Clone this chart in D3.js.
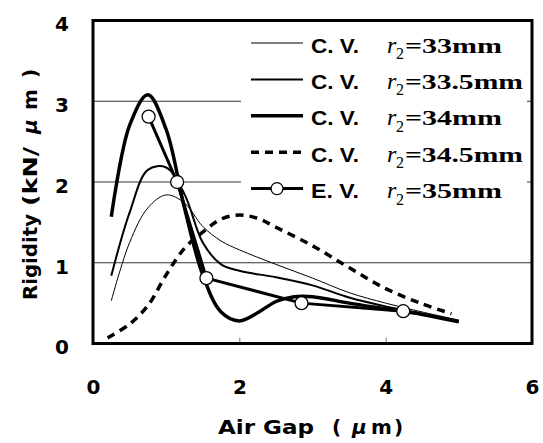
<!DOCTYPE html>
<html>
<head>
<meta charset="utf-8">
<script src="https://cdn.jsdelivr.net/npm/d3@7"></script>
<style>
  body { margin: 0; background: #fff; }
  svg { display: block; }
</style>
</head>
<body>
<svg id="chart" width="543" height="443"></svg>
<script>
// air gap (um) vs rigidity (kN/um)
const gapCV = [0.25, 0.5, 0.75, 1.0, 1.25, 1.5, 1.75, 2.0, 2.5, 3.0, 3.5, 4.0, 4.5, 5.0];
const r33 = [0.53, 1.25, 1.68, 1.84, 1.74, 1.45, 1.27, 1.16, 0.98, 0.81, 0.63, 0.50, 0.39, 0.29];
const r335 = [0.84, 1.62, 2.15, 2.18, 1.85, 1.25, 0.98, 0.90, 0.82, 0.72, 0.57, 0.46, 0.37, 0.28];

const gap34 = [0.25, 0.5, 0.75, 1.0, 1.25, 1.5, 1.75, 2.0, 2.25, 2.5, 2.75, 3.0, 3.5, 4.0, 4.5, 5.0];
const r34 = [1.57, 2.7, 3.08, 2.65, 1.68, 0.85, 0.39, 0.28, 0.38, 0.52, 0.58, 0.58, 0.50, 0.43, 0.36, 0.27];

const gap345 = [0.2, 0.5, 0.75, 1.0, 1.25, 1.5, 1.75, 2.0, 2.25, 2.5, 3.0, 3.5, 4.0, 4.5, 4.9];
const r345 = [0.07, 0.24, 0.47, 0.85, 1.18, 1.38, 1.54, 1.59, 1.55, 1.44, 1.21, 0.94, 0.68, 0.49, 0.37];

const gapEV = [0.76, 1.15, 1.55, 2.85, 4.24];
const r35 = [2.81, 2.0, 0.81, 0.50, 0.40];

const xTicks = [0, 2, 4, 6];
const yTicks = [0, 1, 2, 3, 4];

const legendKind = ["C. V.", "C. V.", "C. V.", "C. V.", "E. V."];
const legendR = ["=33mm", "=33.5mm", "=34mm", "=34.5mm", "=35mm"];

const series = [
    { x: gapCV, y: r33, width: 1, dash: null, smooth: true },
    { x: gapCV, y: r335, width: 2, dash: null, smooth: true },
    { x: gap34, y: r34, width: 3.5, dash: null, smooth: true },
    { x: gap345, y: r345, width: 3.5, dash: "8,6", smooth: true },
    { x: gapEV, y: r35, width: 3, dash: null, smooth: false, marker: true }
];

const sans = "'DejaVu Sans', Verdana, sans-serif";
const serif = "'Liberation Serif', 'Times New Roman', serif";

const margin = { top: 20.5, right: 11, bottom: 99.5, left: 93 };
const width = 543 - margin.left - margin.right;
const height = 443 - margin.top - margin.bottom;

const root = d3.select("#chart");
const svg = root.append("g")
    .attr("transform", "translate(" + margin.left + "," + margin.top + ")");

const x = d3.scaleLinear().domain([0, 6]).range([0, width]);
const y = d3.scaleLinear().domain([0, 4]).range([height, 0]);

// gridlines
svg.selectAll(".grid")
    .data(yTicks.filter(d => d > 0 && d < 4))
    .enter().append("line")
    .attr("x1", 0)
    .attr("x2", width)
    .attr("y1", d => y(d))
    .attr("y2", d => y(d))
    .attr("stroke", "#333")
    .attr("stroke-width", 1);

// x axis (inner ticks + labels)
const xAxis = svg.append("g")
    .attr("transform", "translate(0," + height + ")")
    .call(d3.axisBottom(x).tickValues(xTicks).tickSize(-6).tickPadding(36).tickFormat(d3.format("d")));
xAxis.select(".domain").remove();
xAxis.selectAll("line").attr("stroke", "#777");
xAxis.selectAll("text")
    .attr("font-family", sans)
    .attr("font-weight", "bold")
    .attr("font-size", 20)
    .attr("fill", "#000");

// y axis labels
const yAxis = svg.append("g")
    .call(d3.axisLeft(y).tickValues(yTicks).tickSize(0).tickPadding(24).tickFormat(d3.format("d")));
yAxis.select(".domain").remove();
yAxis.selectAll("text")
    .attr("dy", "0.52em")
    .attr("font-family", sans)
    .attr("font-weight", "bold")
    .attr("font-size", 20)
    .attr("fill", "#000");

// curves
const smoothLine = d3.line()
    .x(d => x(d[0]))
    .y(d => y(d[1]))
    .curve(d3.curveCatmullRom.alpha(0.5));
const straightLine = d3.line()
    .x(d => x(d[0]))
    .y(d => y(d[1]));

series.forEach(s => {
    const pts = s.x.map((v, i) => [v, s.y[i]]);
    svg.append("path")
        .attr("d", s.smooth ? smoothLine(pts) : straightLine(pts))
        .attr("fill", "none")
        .attr("stroke", "#000")
        .attr("stroke-width", s.width)
        .attr("stroke-dasharray", s.dash)
        .attr("stroke-linejoin", "round");
    if (s.marker) {
        svg.selectAll(".ev")
            .data(pts)
            .enter().append("circle")
            .attr("class", "ev")
            .attr("cx", d => x(d[0]))
            .attr("cy", d => y(d[1]))
            .attr("r", 6.5)
            .attr("fill", "#fff")
            .attr("stroke", "#000")
            .attr("stroke-width", 1.3);
    }
});

// legend
const legend = svg.append("g").attr("transform", "translate(" + (241 - margin.left) + "," + (22 - margin.top) + ")");
legend.append("rect")
    .attr("x", 0).attr("y", 0)
    .attr("width", 286).attr("height", 182)
    .attr("fill", "#fff");

const rowY = i => 21 + i * 36.4;
series.forEach((s, i) => {
    const row = legend.append("g").attr("transform", "translate(0," + rowY(i) + ")");
    row.append("line")
        .attr("x1", 10).attr("x2", 62)
        .attr("stroke", "#000")
        .attr("stroke-width", s.width)
        .attr("stroke-dasharray", s.dash);
    if (s.marker) {
        row.append("circle")
            .attr("cx", 36).attr("cy", 0).attr("r", 6)
            .attr("fill", "#fff").attr("stroke", "#000").attr("stroke-width", 1.3);
    }
    row.append("text")
        .attr("x", 70).attr("y", 9.5)
        .attr("font-family", "'Liberation Sans', Arial, sans-serif")
        .attr("font-weight", "bold")
        .attr("font-size", 21)
        .attr("textLength", 48)
        .attr("lengthAdjust", "spacingAndGlyphs")
        .text(legendKind[i]);
    row.append("text")
        .attr("x", 146).attr("y", 9.5)
        .attr("font-family", serif)
        .attr("font-style", "italic")
        .attr("font-size", 24)
        .text("r");
    row.append("text")
        .attr("x", 155).attr("y", 16)
        .attr("font-family", serif)
        .attr("font-size", 16)
        .text("2");
    row.append("text")
        .attr("x", 164).attr("y", 9.5)
        .attr("font-family", serif)
        .attr("font-weight", "bold")
        .attr("font-size", 22)
        .attr("textLength", legendR[i].length > 5 ? 118 : 97)
        .attr("lengthAdjust", "spacingAndGlyphs")
        .text(legendR[i]);
});

// frame
svg.append("rect")
    .attr("x", 0).attr("y", 0)
    .attr("width", width).attr("height", height)
    .attr("fill", "none")
    .attr("stroke", "#000")
    .attr("stroke-width", 3);

// axis titles
const xTitle = root.append("text")
    .attr("y", 433.5)
    .attr("font-family", sans)
    .attr("font-weight", "bold")
    .attr("font-size", 20);
xTitle.append("tspan").attr("x", 218).attr("textLength", 96).attr("lengthAdjust", "spacingAndGlyphs").text("Air Gap");
xTitle.append("tspan").attr("x", 332).text("(");
xTitle.append("tspan").attr("x", 352).attr("font-style", "italic").text("μ");
xTitle.append("tspan").attr("x", 371).text("m");
xTitle.append("tspan").attr("x", 394).text(")");

const yTitle = root.append("text")
    .attr("transform", "translate(37,300) rotate(-90)")
    .attr("font-family", sans)
    .attr("font-weight", "bold")
    .attr("font-size", 20);
yTitle.append("tspan").attr("x", 0).attr("textLength", 86).attr("lengthAdjust", "spacingAndGlyphs").text("Rigidity");
yTitle.append("tspan").attr("x", 94).attr("textLength", 59).attr("lengthAdjust", "spacingAndGlyphs").text("(kN/");
yTitle.append("tspan").attr("x", 166).attr("font-style", "italic").text("μ");
yTitle.append("tspan").attr("x", 190).text("m");
yTitle.append("tspan").attr("x", 222).text(")");
</script>
</body>
</html>
